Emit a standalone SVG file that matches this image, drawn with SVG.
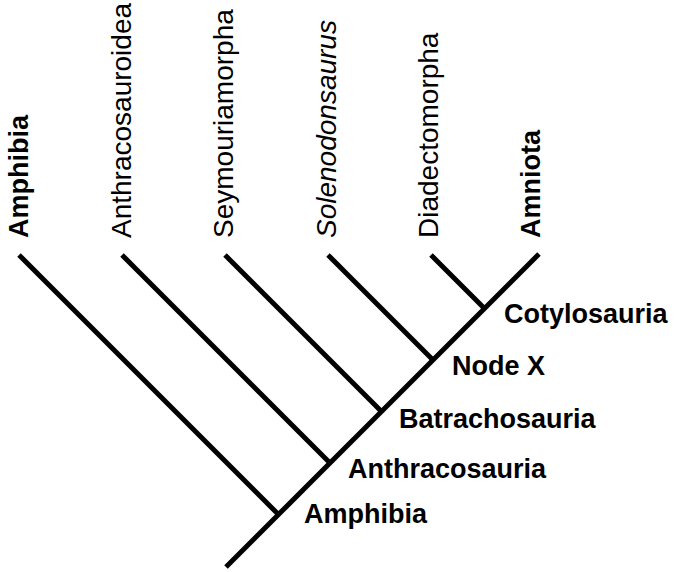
<svg xmlns="http://www.w3.org/2000/svg" width="674" height="572" viewBox="0 0 674 572">
<style>
.ln{stroke:#000;stroke-width:5;fill:none;stroke-linecap:butt}
.t{font-family:"Liberation Sans",Arial,sans-serif;font-size:27px;fill:#000}
.r{font-size:28px}
.b{font-weight:bold}
.i{font-style:italic}
</style>
<rect width="674" height="572" fill="#fff"/>
<g id="connectors">
<line class="ln" x1="226" y1="567" x2="539" y2="254"/>
<line class="ln" x1="19" y1="255" x2="279.5" y2="515.5"/>
<line class="ln" x1="122" y1="255" x2="331" y2="464"/>
<line class="ln" x1="225" y1="255" x2="382.5" y2="412.5"/>
<line class="ln" x1="328" y1="255" x2="434" y2="361"/>
<line class="ln" x1="431" y1="255" x2="485.5" y2="309.5"/>
</g>
<g id="leaf-amphibia"><text class="t b" transform="translate(28,238) rotate(-90)">Amphibia</text></g>
<g id="leaf-anthracosauroidea"><text class="t r" transform="translate(131,238) rotate(-90)">Anthracosauroidea</text></g>
<g id="leaf-seymouriamorpha"><text class="t r" transform="translate(233,238) rotate(-90)">Seymouriamorpha</text></g>
<g id="leaf-solenodonsaurus"><text class="t r i" transform="translate(336,238) rotate(-90)">Solenodonsaurus</text></g>
<g id="leaf-diadectomorpha"><text class="t r" transform="translate(438,238) rotate(-90)">Diadectomorpha</text></g>
<g id="leaf-amniota"><text class="t b" transform="translate(540,238) rotate(-90)">Amniota</text></g>
<g id="node-amphibia"><text class="t b" x="304" y="523">Amphibia</text></g>
<g id="node-anthracosauria"><text class="t b" x="348" y="478">Anthracosauria</text></g>
<g id="node-batrachosauria"><text class="t b" x="399" y="428">Batrachosauria</text></g>
<g id="node-x"><text class="t b" x="452" y="375">Node X</text></g>
<g id="node-cotylosauria"><text class="t b" x="504" y="323">Cotylosauria</text></g>
</svg>
